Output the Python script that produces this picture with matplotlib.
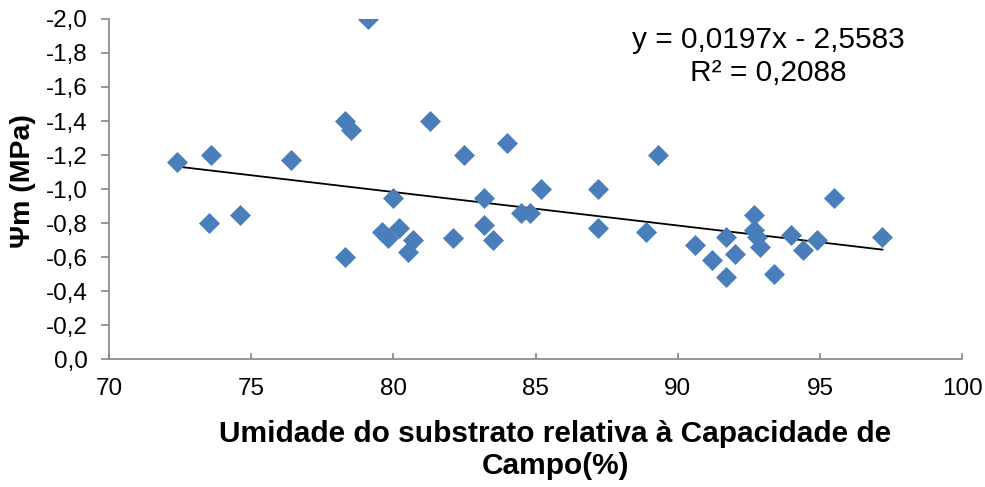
import matplotlib
matplotlib.use('Agg')

import matplotlib.pyplot as plt
from matplotlib.ticker import FuncFormatter, MultipleLocator
import numpy as np

plt.rcParams['font.family'] = ['Liberation Sans', 'DejaVu Sans']

# umidade do substrato (% da capacidade de campo) x potencial matricial (MPa)
umidade = [72.4, 73.6, 73.5, 74.6, 76.4, 78.3, 78.5, 78.3, 79.1, 79.6,
           79.8, 80.0, 80.2, 80.7, 80.5, 81.3, 82.1, 82.5, 83.2, 83.2,
           83.5, 84.0, 84.5, 84.8, 85.2, 87.2, 87.2, 88.9, 89.3, 90.6,
           91.2, 91.7, 92.0, 91.7, 92.7, 92.7, 92.8, 92.9, 93.4, 94.0,
           94.4, 94.9, 95.5, 97.2]
psi_m = [-1.16, -1.20, -0.80, -0.85, -1.17, -1.40, -1.35, -0.60, -2.00, -0.75,
         -0.71, -0.95, -0.77, -0.70, -0.63, -1.40, -0.71, -1.20, -0.95, -0.79,
         -0.70, -1.27, -0.86, -0.86, -1.00, -1.00, -0.77, -0.75, -1.20, -0.67,
         -0.58, -0.72, -0.62, -0.48, -0.85, -0.76, -0.72, -0.66, -0.50, -0.73,
         -0.64, -0.70, -0.95, -0.72]

# linha de tendência (Excel)
coef_a = 0.0197
coef_b = -2.5583

fig = plt.figure(figsize=(9.85, 4.87), dpi=100)
ax = fig.add_axes([0.1107, 0.2628, 0.8660, 0.6982])

ax.plot(umidade, psi_m, linestyle='none', marker='D', markersize=9.8,
        color='#4A7EBB', markeredgecolor='#4A7EBB', markeredgewidth=0.5, zorder=3)

xt = np.array([min(umidade), max(umidade)])
ax.plot(xt, coef_a * xt + coef_b, color='black', linewidth=1.3, zorder=2)

ax.set_xlim(70, 100)
ax.set_ylim(0, -2.0)
ax.xaxis.set_major_locator(MultipleLocator(5))
ax.yaxis.set_major_locator(MultipleLocator(0.2))

comma = FuncFormatter(lambda v, p: '{:.1f}'.format(v).replace('.', ',').replace('-0,0', '0,0'))
ax.yaxis.set_major_formatter(comma)
ax.xaxis.set_major_formatter(FuncFormatter(lambda v, p: '{:d}'.format(int(round(v)))))

for s in ['top', 'right']:
    ax.spines[s].set_visible(False)
for s in ['left', 'bottom']:
    ax.spines[s].set_color('#868686')
    ax.spines[s].set_linewidth(1.2)

ax.tick_params(axis='both', width=1.2, color='#868686', labelsize=17.5, labelcolor='black')
ax.tick_params(axis='y', direction='out', length=5.5, pad=10)
ax.tick_params(axis='x', direction='in', length=4.5, pad=14)

fig.text(0.0234, 0.628, 'Ψm (MPa)', rotation=90, ha='center', va='center',
         fontsize=20.5, fontweight='bold')
fig.text(0.5635, 0.076, 'Umidade do substrato relativa à Capacidade de\nCampo(%)',
         ha='center', va='center', fontsize=21.5, fontweight='bold', linespacing=1.18)

fig.text(0.780, 0.918, 'y = 0,0197x - 2,5583', ha='center', va='center', fontsize=21.5)
fig.text(0.780, 0.850, 'R² = 0,2088', ha='center', va='center', fontsize=21.5)

fig.savefig('out.png', dpi=100)
